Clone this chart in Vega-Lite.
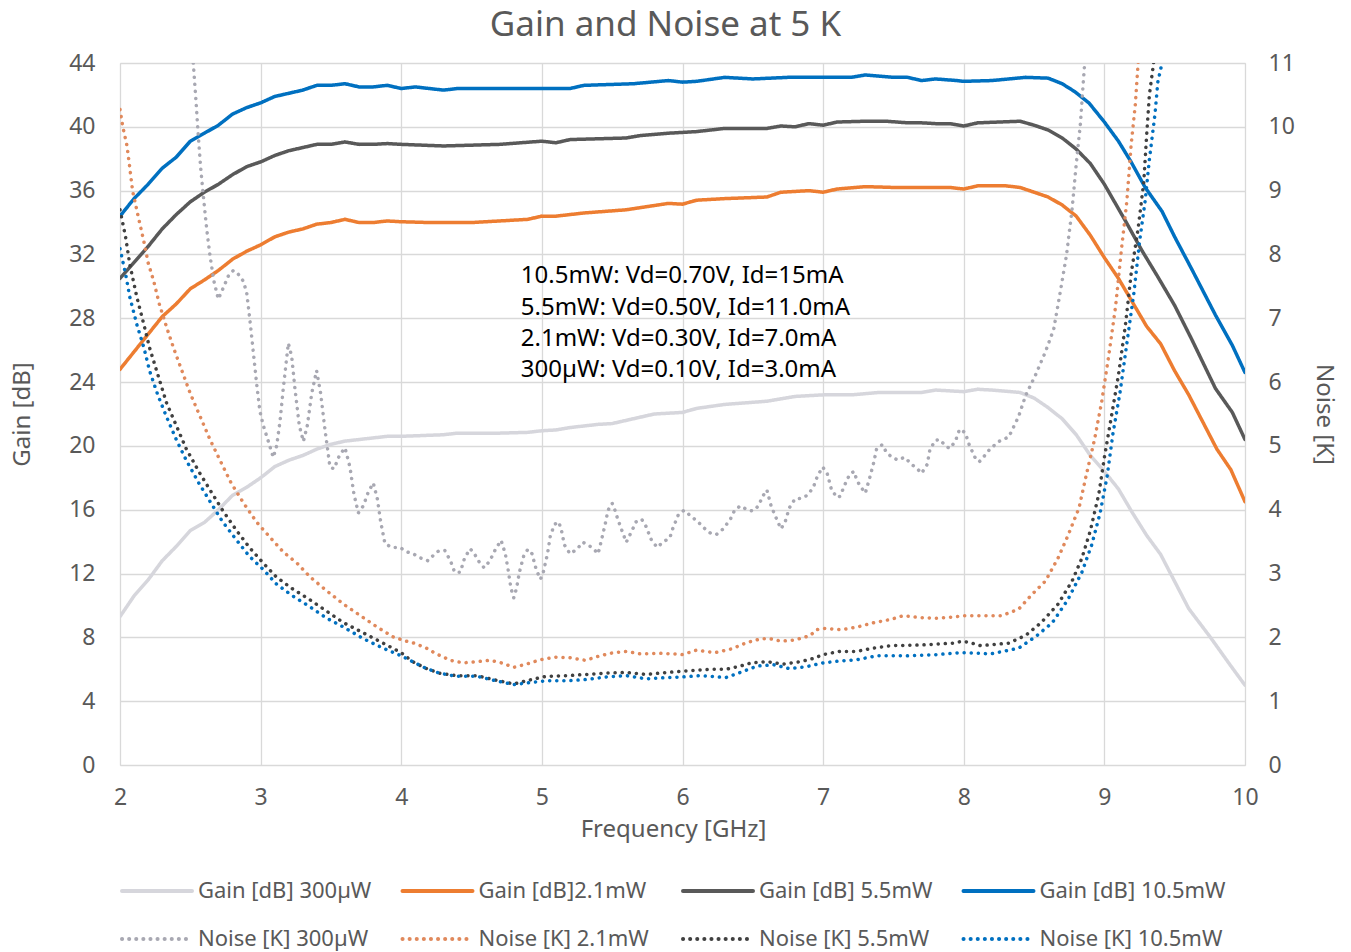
{
"$schema":"https://vega.github.io/schema/vega-lite/v6.json",
"width":1125,"height":702,
"autosize":{"type":"none"},
"padding":{"left":120,"top":63,"right":106,"bottom":187},
"background":"white",
"title":{"text":"Gain and Noise at 5 K","fontSize":35,"fontWeight":"normal","color":"#595959","font":"Noto Sans","dx":-17,"offset":9},
"config":{"font":"Noto Sans","view":{"stroke":"#d9d9d9"},
 "axis":{"labelFont":"Noto Sans","titleFont":"Noto Sans","labelFontSize":23,"titleFontSize":24,"labelColor":"#595959","titleColor":"#595959","titleFontWeight":"normal","gridColor":"#d9d9d9","gridWidth":1.3,"domain":false,"ticks":false,"tickSize":0,"labelFlush":false}},
"datasets":{
"labels":[
{"k":"g300","s":"Gain [dB] 300µW"},{"k":"g2","s":"Gain [dB]2.1mW"},{"k":"g5","s":"Gain [dB] 5.5mW"},{"k":"g10","s":"Gain [dB] 10.5mW"},
{"k":"n300","s":"Noise [K] 300µW"},{"k":"n2","s":"Noise [K] 2.1mW"},{"k":"n5","s":"Noise [K] 5.5mW"},{"k":"n10","s":"Noise [K] 10.5mW"}],
"notes":[
{"f":4.85,"g":30.65,"t":"10.5mW: Vd=0.70V, Id=15mA"},
{"f":4.85,"g":28.64,"t":"5.5mW: Vd=0.50V, Id=11.0mA"},
{"f":4.85,"g":26.7,"t":"2.1mW: Vd=0.30V, Id=7.0mA"},
{"f":4.85,"g":24.76,"t":"300µW: Vd=0.10V, Id=3.0mA"}],
"pts":[
{"k":"g300","f":2.0,"v":9.3},{"k":"g300","f":2.1,"v":10.6},{"k":"g300","f":2.2,"v":11.6},{"k":"g300","f":2.3,"v":12.8},{"k":"g300","f":2.4,"v":13.7},{"k":"g300","f":2.5,"v":14.7},{"k":"g300","f":2.6,"v":15.2},{"k":"g300","f":2.7,"v":16.0},{"k":"g300","f":2.8,"v":16.9},{"k":"g300","f":2.9,"v":17.4},{"k":"g300","f":3.0,"v":18.0},{"k":"g300","f":3.1,"v":18.7},{"k":"g300","f":3.2,"v":19.1},{"k":"g300","f":3.3,"v":19.4},{"k":"g300","f":3.4,"v":19.8},{"k":"g300","f":3.5,"v":20.1},{"k":"g300","f":3.6,"v":20.3},{"k":"g300","f":3.7,"v":20.4},{"k":"g300","f":3.8,"v":20.5},{"k":"g300","f":3.9,"v":20.6},{"k":"g300","f":4.0,"v":20.6},{"k":"g300","f":4.3,"v":20.7},{"k":"g300","f":4.4,"v":20.8},{"k":"g300","f":4.7,"v":20.8},{"k":"g300","f":4.9,"v":20.85},{"k":"g300","f":5.0,"v":20.95},{"k":"g300","f":5.1,"v":21.0},{"k":"g300","f":5.2,"v":21.15},{"k":"g300","f":5.4,"v":21.35},{"k":"g300","f":5.5,"v":21.4},{"k":"g300","f":5.65,"v":21.7},{"k":"g300","f":5.8,"v":22.0},{"k":"g300","f":6.0,"v":22.1},{"k":"g300","f":6.1,"v":22.35},{"k":"g300","f":6.3,"v":22.6},{"k":"g300","f":6.6,"v":22.8},{"k":"g300","f":6.8,"v":23.1},{"k":"g300","f":7.0,"v":23.2},{"k":"g300","f":7.2,"v":23.2},{"k":"g300","f":7.4,"v":23.35},{"k":"g300","f":7.7,"v":23.35},{"k":"g300","f":7.8,"v":23.5},{"k":"g300","f":8.0,"v":23.4},{"k":"g300","f":8.1,"v":23.55},{"k":"g300","f":8.2,"v":23.5},{"k":"g300","f":8.4,"v":23.35},{"k":"g300","f":8.5,"v":23.0},{"k":"g300","f":8.6,"v":22.4},{"k":"g300","f":8.7,"v":21.7},{"k":"g300","f":8.8,"v":20.7},{"k":"g300","f":8.9,"v":19.4},{"k":"g300","f":9.0,"v":18.4},{"k":"g300","f":9.1,"v":17.3},{"k":"g300","f":9.2,"v":15.8},{"k":"g300","f":9.3,"v":14.4},{"k":"g300","f":9.4,"v":13.2},{"k":"g300","f":9.5,"v":11.5},{"k":"g300","f":9.6,"v":9.8},{"k":"g300","f":9.75,"v":8.05},{"k":"g300","f":9.9,"v":6.2},{"k":"g300","f":10.0,"v":5.0},
{"k":"g2","f":2.0,"v":24.8},{"k":"g2","f":2.1,"v":25.9},{"k":"g2","f":2.2,"v":27.0},{"k":"g2","f":2.3,"v":28.1},{"k":"g2","f":2.4,"v":28.9},{"k":"g2","f":2.5,"v":29.85},{"k":"g2","f":2.6,"v":30.4},{"k":"g2","f":2.7,"v":31.0},{"k":"g2","f":2.8,"v":31.7},{"k":"g2","f":2.9,"v":32.2},{"k":"g2","f":3.0,"v":32.6},{"k":"g2","f":3.1,"v":33.1},{"k":"g2","f":3.2,"v":33.4},{"k":"g2","f":3.3,"v":33.6},{"k":"g2","f":3.4,"v":33.9},{"k":"g2","f":3.5,"v":34.0},{"k":"g2","f":3.6,"v":34.2},{"k":"g2","f":3.7,"v":34.0},{"k":"g2","f":3.8,"v":34.0},{"k":"g2","f":3.9,"v":34.1},{"k":"g2","f":4.0,"v":34.05},{"k":"g2","f":4.2,"v":34.0},{"k":"g2","f":4.5,"v":34.0},{"k":"g2","f":4.7,"v":34.1},{"k":"g2","f":4.9,"v":34.2},{"k":"g2","f":5.0,"v":34.4},{"k":"g2","f":5.1,"v":34.4},{"k":"g2","f":5.3,"v":34.6},{"k":"g2","f":5.6,"v":34.8},{"k":"g2","f":5.9,"v":35.2},{"k":"g2","f":6.0,"v":35.15},{"k":"g2","f":6.1,"v":35.4},{"k":"g2","f":6.3,"v":35.5},{"k":"g2","f":6.6,"v":35.6},{"k":"g2","f":6.7,"v":35.9},{"k":"g2","f":6.9,"v":36.0},{"k":"g2","f":7.0,"v":35.9},{"k":"g2","f":7.1,"v":36.1},{"k":"g2","f":7.3,"v":36.25},{"k":"g2","f":7.5,"v":36.2},{"k":"g2","f":7.7,"v":36.2},{"k":"g2","f":7.9,"v":36.2},{"k":"g2","f":8.0,"v":36.1},{"k":"g2","f":8.1,"v":36.3},{"k":"g2","f":8.3,"v":36.3},{"k":"g2","f":8.4,"v":36.2},{"k":"g2","f":8.5,"v":35.9},{"k":"g2","f":8.6,"v":35.6},{"k":"g2","f":8.7,"v":35.1},{"k":"g2","f":8.8,"v":34.4},{"k":"g2","f":8.9,"v":33.2},{"k":"g2","f":9.0,"v":31.8},{"k":"g2","f":9.1,"v":30.5},{"k":"g2","f":9.2,"v":29.0},{"k":"g2","f":9.3,"v":27.5},{"k":"g2","f":9.4,"v":26.4},{"k":"g2","f":9.5,"v":24.7},{"k":"g2","f":9.6,"v":23.2},{"k":"g2","f":9.7,"v":21.5},{"k":"g2","f":9.8,"v":19.8},{"k":"g2","f":9.9,"v":18.5},{"k":"g2","f":10.0,"v":16.5},
{"k":"g5","f":2.0,"v":30.5},{"k":"g5","f":2.1,"v":31.5},{"k":"g5","f":2.2,"v":32.5},{"k":"g5","f":2.3,"v":33.6},{"k":"g5","f":2.4,"v":34.5},{"k":"g5","f":2.5,"v":35.3},{"k":"g5","f":2.6,"v":35.9},{"k":"g5","f":2.7,"v":36.4},{"k":"g5","f":2.8,"v":37.0},{"k":"g5","f":2.9,"v":37.5},{"k":"g5","f":3.0,"v":37.8},{"k":"g5","f":3.1,"v":38.2},{"k":"g5","f":3.2,"v":38.5},{"k":"g5","f":3.3,"v":38.7},{"k":"g5","f":3.4,"v":38.9},{"k":"g5","f":3.5,"v":38.9},{"k":"g5","f":3.6,"v":39.05},{"k":"g5","f":3.7,"v":38.9},{"k":"g5","f":3.8,"v":38.9},{"k":"g5","f":3.9,"v":38.95},{"k":"g5","f":4.0,"v":38.9},{"k":"g5","f":4.3,"v":38.8},{"k":"g5","f":4.7,"v":38.9},{"k":"g5","f":5.0,"v":39.1},{"k":"g5","f":5.1,"v":39.0},{"k":"g5","f":5.2,"v":39.2},{"k":"g5","f":5.4,"v":39.25},{"k":"g5","f":5.6,"v":39.3},{"k":"g5","f":5.7,"v":39.45},{"k":"g5","f":5.9,"v":39.6},{"k":"g5","f":6.1,"v":39.7},{"k":"g5","f":6.3,"v":39.9},{"k":"g5","f":6.6,"v":39.9},{"k":"g5","f":6.7,"v":40.05},{"k":"g5","f":6.8,"v":40.0},{"k":"g5","f":6.9,"v":40.2},{"k":"g5","f":7.0,"v":40.1},{"k":"g5","f":7.1,"v":40.3},{"k":"g5","f":7.3,"v":40.35},{"k":"g5","f":7.45,"v":40.35},{"k":"g5","f":7.6,"v":40.25},{"k":"g5","f":7.7,"v":40.25},{"k":"g5","f":7.8,"v":40.2},{"k":"g5","f":7.9,"v":40.2},{"k":"g5","f":8.0,"v":40.05},{"k":"g5","f":8.1,"v":40.25},{"k":"g5","f":8.4,"v":40.35},{"k":"g5","f":8.5,"v":40.1},{"k":"g5","f":8.6,"v":39.8},{"k":"g5","f":8.7,"v":39.3},{"k":"g5","f":8.8,"v":38.6},{"k":"g5","f":8.9,"v":37.7},{"k":"g5","f":9.0,"v":36.4},{"k":"g5","f":9.15,"v":34.1},{"k":"g5","f":9.27,"v":32.2},{"k":"g5","f":9.38,"v":30.6},{"k":"g5","f":9.5,"v":28.8},{"k":"g5","f":9.62,"v":26.7},{"k":"g5","f":9.79,"v":23.6},{"k":"g5","f":9.91,"v":22.1},{"k":"g5","f":10.0,"v":20.4},
{"k":"g10","f":2.0,"v":34.4},{"k":"g10","f":2.1,"v":35.5},{"k":"g10","f":2.2,"v":36.4},{"k":"g10","f":2.3,"v":37.4},{"k":"g10","f":2.4,"v":38.1},{"k":"g10","f":2.5,"v":39.1},{"k":"g10","f":2.6,"v":39.6},{"k":"g10","f":2.7,"v":40.1},{"k":"g10","f":2.8,"v":40.8},{"k":"g10","f":2.9,"v":41.2},{"k":"g10","f":3.0,"v":41.5},{"k":"g10","f":3.1,"v":41.9},{"k":"g10","f":3.2,"v":42.1},{"k":"g10","f":3.3,"v":42.3},{"k":"g10","f":3.4,"v":42.6},{"k":"g10","f":3.5,"v":42.6},{"k":"g10","f":3.6,"v":42.7},{"k":"g10","f":3.7,"v":42.5},{"k":"g10","f":3.8,"v":42.5},{"k":"g10","f":3.9,"v":42.6},{"k":"g10","f":4.0,"v":42.4},{"k":"g10","f":4.1,"v":42.5},{"k":"g10","f":4.3,"v":42.3},{"k":"g10","f":4.4,"v":42.4},{"k":"g10","f":4.7,"v":42.4},{"k":"g10","f":5.0,"v":42.4},{"k":"g10","f":5.2,"v":42.4},{"k":"g10","f":5.3,"v":42.6},{"k":"g10","f":5.65,"v":42.7},{"k":"g10","f":5.9,"v":42.9},{"k":"g10","f":6.0,"v":42.8},{"k":"g10","f":6.1,"v":42.85},{"k":"g10","f":6.3,"v":43.1},{"k":"g10","f":6.5,"v":43.0},{"k":"g10","f":6.75,"v":43.1},{"k":"g10","f":7.0,"v":43.1},{"k":"g10","f":7.2,"v":43.1},{"k":"g10","f":7.3,"v":43.25},{"k":"g10","f":7.5,"v":43.1},{"k":"g10","f":7.6,"v":43.1},{"k":"g10","f":7.7,"v":42.9},{"k":"g10","f":7.8,"v":43.0},{"k":"g10","f":7.95,"v":42.9},{"k":"g10","f":8.0,"v":42.85},{"k":"g10","f":8.2,"v":42.9},{"k":"g10","f":8.44,"v":43.1},{"k":"g10","f":8.6,"v":43.05},{"k":"g10","f":8.7,"v":42.7},{"k":"g10","f":8.79,"v":42.2},{"k":"g10","f":8.89,"v":41.5},{"k":"g10","f":9.0,"v":40.3},{"k":"g10","f":9.1,"v":39.1},{"k":"g10","f":9.19,"v":37.8},{"k":"g10","f":9.29,"v":36.2},{"k":"g10","f":9.41,"v":34.7},{"k":"g10","f":9.5,"v":33.1},{"k":"g10","f":9.62,"v":31.1},{"k":"g10","f":9.79,"v":28.2},{"k":"g10","f":9.91,"v":26.3},{"k":"g10","f":10.0,"v":24.6},
{"k":"n300","f":2.5,"v":12.0},{"k":"n300","f":2.521,"v":11.0},{"k":"n300","f":2.54,"v":10.42},{"k":"n300","f":2.557,"v":9.85},{"k":"n300","f":2.574,"v":9.35},{"k":"n300","f":2.593,"v":8.91},{"k":"n300","f":2.616,"v":8.41},{"k":"n300","f":2.64,"v":7.98},{"k":"n300","f":2.668,"v":7.58},{"k":"n300","f":2.699,"v":7.3},{"k":"n300","f":2.735,"v":7.48},{"k":"n300","f":2.77,"v":7.66},{"k":"n300","f":2.806,"v":7.75},{"k":"n300","f":2.841,"v":7.69},{"k":"n300","f":2.877,"v":7.58},{"k":"n300","f":2.901,"v":7.4},{"k":"n300","f":2.924,"v":6.97},{"k":"n300","f":2.948,"v":6.47},{"k":"n300","f":2.972,"v":5.97},{"k":"n300","f":2.995,"v":5.54},{"k":"n300","f":3.019,"v":5.32},{"k":"n300","f":3.055,"v":5.07},{"k":"n300","f":3.09,"v":4.82},{"k":"n300","f":3.114,"v":5.0},{"k":"n300","f":3.138,"v":5.39},{"k":"n300","f":3.161,"v":5.9},{"k":"n300","f":3.197,"v":6.61},{"k":"n300","f":3.221,"v":6.4},{"k":"n300","f":3.244,"v":5.9},{"k":"n300","f":3.275,"v":5.32},{"k":"n300","f":3.304,"v":5.07},{"k":"n300","f":3.332,"v":5.32},{"k":"n300","f":3.363,"v":5.82},{"k":"n300","f":3.398,"v":6.18},{"k":"n300","f":3.427,"v":5.82},{"k":"n300","f":3.458,"v":5.25},{"k":"n300","f":3.493,"v":4.67},{"k":"n300","f":3.522,"v":4.64},{"k":"n300","f":3.56,"v":4.85},{"k":"n300","f":3.6,"v":4.97},{"k":"n300","f":3.635,"v":4.67},{"k":"n300","f":3.664,"v":4.24},{"k":"n300","f":3.695,"v":3.95},{"k":"n300","f":3.73,"v":4.06},{"k":"n300","f":3.766,"v":4.28},{"k":"n300","f":3.801,"v":4.42},{"k":"n300","f":3.83,"v":4.17},{"k":"n300","f":3.854,"v":3.81},{"k":"n300","f":3.884,"v":3.47},{"k":"n300","f":3.932,"v":3.41},{"k":"n300","f":3.99,"v":3.41},{"k":"n300","f":4.04,"v":3.34},{"k":"n300","f":4.085,"v":3.31},{"k":"n300","f":4.13,"v":3.25},{"k":"n300","f":4.19,"v":3.2},{"k":"n300","f":4.24,"v":3.31},{"k":"n300","f":4.27,"v":3.36},{"k":"n300","f":4.31,"v":3.36},{"k":"n300","f":4.35,"v":3.2},{"k":"n300","f":4.38,"v":3.02},{"k":"n300","f":4.42,"v":3.02},{"k":"n300","f":4.45,"v":3.24},{"k":"n300","f":4.49,"v":3.39},{"k":"n300","f":4.52,"v":3.31},{"k":"n300","f":4.56,"v":3.16},{"k":"n300","f":4.59,"v":3.09},{"k":"n300","f":4.63,"v":3.2},{"k":"n300","f":4.67,"v":3.38},{"k":"n300","f":4.71,"v":3.52},{"k":"n300","f":4.74,"v":3.31},{"k":"n300","f":4.76,"v":3.06},{"k":"n300","f":4.78,"v":2.77},{"k":"n300","f":4.8,"v":2.62},{"k":"n300","f":4.82,"v":2.77},{"k":"n300","f":4.84,"v":3.02},{"k":"n300","f":4.87,"v":3.27},{"k":"n300","f":4.9,"v":3.38},{"k":"n300","f":4.93,"v":3.31},{"k":"n300","f":4.96,"v":3.06},{"k":"n300","f":4.99,"v":2.91},{"k":"n300","f":5.01,"v":3.02},{"k":"n300","f":5.04,"v":3.31},{"k":"n300","f":5.06,"v":3.59},{"k":"n300","f":5.09,"v":3.77},{"k":"n300","f":5.12,"v":3.81},{"k":"n300","f":5.14,"v":3.67},{"k":"n300","f":5.16,"v":3.45},{"k":"n300","f":5.2,"v":3.31},{"k":"n300","f":5.25,"v":3.38},{"k":"n300","f":5.29,"v":3.49},{"k":"n300","f":5.33,"v":3.45},{"k":"n300","f":5.37,"v":3.38},{"k":"n300","f":5.4,"v":3.31},{"k":"n300","f":5.42,"v":3.49},{"k":"n300","f":5.45,"v":3.77},{"k":"n300","f":5.47,"v":3.99},{"k":"n300","f":5.5,"v":4.1},{"k":"n300","f":5.52,"v":3.99},{"k":"n300","f":5.54,"v":3.85},{"k":"n300","f":5.57,"v":3.67},{"k":"n300","f":5.6,"v":3.49},{"k":"n300","f":5.64,"v":3.67},{"k":"n300","f":5.67,"v":3.81},{"k":"n300","f":5.71,"v":3.85},{"k":"n300","f":5.74,"v":3.74},{"k":"n300","f":5.78,"v":3.52},{"k":"n300","f":5.82,"v":3.41},{"k":"n300","f":5.86,"v":3.49},{"k":"n300","f":5.91,"v":3.56},{"k":"n300","f":5.93,"v":3.7},{"k":"n300","f":5.97,"v":3.92},{"k":"n300","f":6.01,"v":3.99},{"k":"n300","f":6.05,"v":3.92},{"k":"n300","f":6.11,"v":3.81},{"k":"n300","f":6.16,"v":3.7},{"k":"n300","f":6.2,"v":3.63},{"k":"n300","f":6.24,"v":3.61},{"k":"n300","f":6.29,"v":3.7},{"k":"n300","f":6.34,"v":3.85},{"k":"n300","f":6.37,"v":3.99},{"k":"n300","f":6.41,"v":4.06},{"k":"n300","f":6.46,"v":4.0},{"k":"n300","f":6.5,"v":3.98},{"k":"n300","f":6.54,"v":4.06},{"k":"n300","f":6.57,"v":4.21},{"k":"n300","f":6.6,"v":4.31},{"k":"n300","f":6.63,"v":4.06},{"k":"n300","f":6.67,"v":3.85},{"k":"n300","f":6.7,"v":3.7},{"k":"n300","f":6.73,"v":3.81},{"k":"n300","f":6.76,"v":4.03},{"k":"n300","f":6.8,"v":4.17},{"k":"n300","f":6.85,"v":4.18},{"k":"n300","f":6.89,"v":4.23},{"k":"n300","f":6.93,"v":4.35},{"k":"n300","f":6.96,"v":4.53},{"k":"n300","f":6.997,"v":4.67},{"k":"n300","f":7.03,"v":4.56},{"k":"n300","f":7.06,"v":4.31},{"k":"n300","f":7.1,"v":4.19},{"k":"n300","f":7.12,"v":4.21},{"k":"n300","f":7.16,"v":4.42},{"k":"n300","f":7.19,"v":4.56},{"k":"n300","f":7.22,"v":4.6},{"k":"n300","f":7.24,"v":4.46},{"k":"n300","f":7.27,"v":4.35},{"k":"n300","f":7.3,"v":4.26},{"k":"n300","f":7.33,"v":4.49},{"k":"n300","f":7.36,"v":4.74},{"k":"n300","f":7.38,"v":4.95},{"k":"n300","f":7.42,"v":5.02},{"k":"n300","f":7.45,"v":4.9},{"k":"n300","f":7.49,"v":4.82},{"k":"n300","f":7.53,"v":4.78},{"k":"n300","f":7.58,"v":4.82},{"k":"n300","f":7.63,"v":4.71},{"k":"n300","f":7.67,"v":4.64},{"k":"n300","f":7.7,"v":4.57},{"k":"n300","f":7.74,"v":4.71},{"k":"n300","f":7.76,"v":4.95},{"k":"n300","f":7.8,"v":5.09},{"k":"n300","f":7.83,"v":5.1},{"k":"n300","f":7.87,"v":5.0},{"k":"n300","f":7.9,"v":4.96},{"k":"n300","f":7.94,"v":5.07},{"k":"n300","f":7.97,"v":5.26},{"k":"n300","f":8.01,"v":5.21},{"k":"n300","f":8.04,"v":5.01},{"k":"n300","f":8.08,"v":4.82},{"k":"n300","f":8.11,"v":4.75},{"k":"n300","f":8.15,"v":4.85},{"k":"n300","f":8.19,"v":4.96},{"k":"n300","f":8.25,"v":5.07},{"k":"n300","f":8.32,"v":5.14},{"k":"n300","f":8.39,"v":5.46},{"k":"n300","f":8.44,"v":5.79},{"k":"n300","f":8.51,"v":6.11},{"k":"n300","f":8.58,"v":6.47},{"k":"n300","f":8.64,"v":6.83},{"k":"n300","f":8.68,"v":7.33},{"k":"n300","f":8.73,"v":7.98},{"k":"n300","f":8.77,"v":8.7},{"k":"n300","f":8.8,"v":9.42},{"k":"n300","f":8.83,"v":10.06},{"k":"n300","f":8.85,"v":10.7},{"k":"n300","f":8.86,"v":11.0},{"k":"n300","f":8.88,"v":12.0},
{"k":"n2","f":2.0,"v":10.27},{"k":"n2","f":2.02,"v":10.0},{"k":"n2","f":2.05,"v":9.7},{"k":"n2","f":2.07,"v":9.35},{"k":"n2","f":2.09,"v":8.99},{"k":"n2","f":2.13,"v":8.59},{"k":"n2","f":2.17,"v":8.2},{"k":"n2","f":2.2,"v":7.87},{"k":"n2","f":2.24,"v":7.58},{"k":"n2","f":2.28,"v":7.22},{"k":"n2","f":2.33,"v":6.87},{"k":"n2","f":2.38,"v":6.54},{"k":"n2","f":2.44,"v":6.18},{"k":"n2","f":2.5,"v":5.82},{"k":"n2","f":2.57,"v":5.46},{"k":"n2","f":2.64,"v":5.1},{"k":"n2","f":2.71,"v":4.78},{"k":"n2","f":2.79,"v":4.42},{"k":"n2","f":2.88,"v":4.1},{"k":"n2","f":2.97,"v":3.81},{"k":"n2","f":3.07,"v":3.56},{"k":"n2","f":3.16,"v":3.34},{"k":"n2","f":3.26,"v":3.16},{"k":"n2","f":3.35,"v":2.95},{"k":"n2","f":3.47,"v":2.73},{"k":"n2","f":3.59,"v":2.52},{"k":"n2","f":3.71,"v":2.34},{"k":"n2","f":3.83,"v":2.16},{"k":"n2","f":3.94,"v":2.01},{"k":"n2","f":4.02,"v":1.95},{"k":"n2","f":4.09,"v":1.91},{"k":"n2","f":4.18,"v":1.83},{"k":"n2","f":4.25,"v":1.74},{"k":"n2","f":4.35,"v":1.64},{"k":"n2","f":4.44,"v":1.6},{"k":"n2","f":4.54,"v":1.62},{"k":"n2","f":4.63,"v":1.64},{"k":"n2","f":4.7,"v":1.61},{"k":"n2","f":4.8,"v":1.53},{"k":"n2","f":4.89,"v":1.58},{"k":"n2","f":4.99,"v":1.65},{"k":"n2","f":5.1,"v":1.69},{"k":"n2","f":5.2,"v":1.68},{"k":"n2","f":5.31,"v":1.64},{"k":"n2","f":5.41,"v":1.71},{"k":"n2","f":5.51,"v":1.76},{"k":"n2","f":5.6,"v":1.78},{"k":"n2","f":5.7,"v":1.74},{"k":"n2","f":5.84,"v":1.75},{"k":"n2","f":5.95,"v":1.74},{"k":"n2","f":6.0,"v":1.73},{"k":"n2","f":6.1,"v":1.8},{"k":"n2","f":6.23,"v":1.76},{"k":"n2","f":6.35,"v":1.82},{"k":"n2","f":6.46,"v":1.92},{"k":"n2","f":6.56,"v":1.98},{"k":"n2","f":6.62,"v":1.98},{"k":"n2","f":6.7,"v":1.94},{"k":"n2","f":6.8,"v":1.96},{"k":"n2","f":6.91,"v":2.03},{"k":"n2","f":6.95,"v":2.12},{"k":"n2","f":7.01,"v":2.14},{"k":"n2","f":7.13,"v":2.12},{"k":"n2","f":7.24,"v":2.16},{"k":"n2","f":7.36,"v":2.23},{"k":"n2","f":7.48,"v":2.28},{"k":"n2","f":7.57,"v":2.34},{"k":"n2","f":7.69,"v":2.31},{"k":"n2","f":7.81,"v":2.3},{"k":"n2","f":7.93,"v":2.32},{"k":"n2","f":8.0,"v":2.34},{"k":"n2","f":8.1,"v":2.34},{"k":"n2","f":8.27,"v":2.34},{"k":"n2","f":8.39,"v":2.44},{"k":"n2","f":8.48,"v":2.66},{"k":"n2","f":8.58,"v":2.88},{"k":"n2","f":8.67,"v":3.24},{"k":"n2","f":8.74,"v":3.59},{"k":"n2","f":8.82,"v":4.03},{"k":"n2","f":8.87,"v":4.53},{"k":"n2","f":8.93,"v":5.1},{"k":"n2","f":8.98,"v":5.68},{"k":"n2","f":9.03,"v":6.4},{"k":"n2","f":9.08,"v":7.19},{"k":"n2","f":9.12,"v":8.05},{"k":"n2","f":9.16,"v":8.84},{"k":"n2","f":9.19,"v":9.71},{"k":"n2","f":9.22,"v":10.35},{"k":"n2","f":9.24,"v":11.0},{"k":"n2","f":9.27,"v":11.9},
{"k":"n5","f":2.0,"v":8.7},{"k":"n5","f":2.04,"v":8.27},{"k":"n5","f":2.07,"v":7.84},{"k":"n5","f":2.12,"v":7.33},{"k":"n5","f":2.17,"v":6.9},{"k":"n5","f":2.21,"v":6.54},{"k":"n5","f":2.27,"v":6.11},{"k":"n5","f":2.33,"v":5.68},{"k":"n5","f":2.4,"v":5.32},{"k":"n5","f":2.47,"v":4.96},{"k":"n5","f":2.56,"v":4.6},{"k":"n5","f":2.64,"v":4.31},{"k":"n5","f":2.73,"v":3.99},{"k":"n5","f":2.83,"v":3.67},{"k":"n5","f":2.92,"v":3.41},{"k":"n5","f":3.02,"v":3.16},{"k":"n5","f":3.11,"v":2.95},{"k":"n5","f":3.22,"v":2.77},{"k":"n5","f":3.35,"v":2.59},{"k":"n5","f":3.47,"v":2.41},{"k":"n5","f":3.59,"v":2.23},{"k":"n5","f":3.73,"v":2.07},{"k":"n5","f":3.87,"v":1.91},{"k":"n5","f":4.0,"v":1.76},{"k":"n5","f":4.08,"v":1.62},{"k":"n5","f":4.18,"v":1.51},{"k":"n5","f":4.27,"v":1.44},{"k":"n5","f":4.39,"v":1.4},{"k":"n5","f":4.54,"v":1.4},{"k":"n5","f":4.65,"v":1.34},{"k":"n5","f":4.8,"v":1.27},{"k":"n5","f":4.91,"v":1.33},{"k":"n5","f":5.03,"v":1.39},{"k":"n5","f":5.18,"v":1.4},{"k":"n5","f":5.32,"v":1.42},{"k":"n5","f":5.46,"v":1.44},{"k":"n5","f":5.6,"v":1.45},{"k":"n5","f":5.74,"v":1.42},{"k":"n5","f":5.89,"v":1.45},{"k":"n5","f":6.0,"v":1.47},{"k":"n5","f":6.2,"v":1.5},{"k":"n5","f":6.31,"v":1.5},{"k":"n5","f":6.41,"v":1.55},{"k":"n5","f":6.49,"v":1.6},{"k":"n5","f":6.6,"v":1.62},{"k":"n5","f":6.71,"v":1.58},{"k":"n5","f":6.84,"v":1.62},{"k":"n5","f":6.93,"v":1.67},{"k":"n5","f":7.0,"v":1.73},{"k":"n5","f":7.12,"v":1.78},{"k":"n5","f":7.24,"v":1.78},{"k":"n5","f":7.35,"v":1.83},{"k":"n5","f":7.48,"v":1.87},{"k":"n5","f":7.69,"v":1.88},{"k":"n5","f":7.93,"v":1.91},{"k":"n5","f":7.99,"v":1.94},{"k":"n5","f":8.04,"v":1.92},{"k":"n5","f":8.12,"v":1.87},{"k":"n5","f":8.32,"v":1.91},{"k":"n5","f":8.44,"v":2.03},{"k":"n5","f":8.55,"v":2.23},{"k":"n5","f":8.67,"v":2.52},{"k":"n5","f":8.77,"v":2.88},{"k":"n5","f":8.84,"v":3.24},{"k":"n5","f":8.9,"v":3.67},{"k":"n5","f":8.96,"v":4.24},{"k":"n5","f":9.0,"v":4.82},{"k":"n5","f":9.05,"v":5.46},{"k":"n5","f":9.1,"v":6.11},{"k":"n5","f":9.15,"v":6.9},{"k":"n5","f":9.19,"v":7.69},{"k":"n5","f":9.24,"v":8.41},{"k":"n5","f":9.28,"v":9.13},{"k":"n5","f":9.3,"v":9.85},{"k":"n5","f":9.32,"v":10.5},{"k":"n5","f":9.35,"v":11.0},{"k":"n5","f":9.38,"v":11.8},
{"k":"n10","f":2.0,"v":8.09},{"k":"n10","f":2.04,"v":7.69},{"k":"n10","f":2.07,"v":7.33},{"k":"n10","f":2.12,"v":6.9},{"k":"n10","f":2.17,"v":6.54},{"k":"n10","f":2.21,"v":6.18},{"k":"n10","f":2.27,"v":5.79},{"k":"n10","f":2.33,"v":5.46},{"k":"n10","f":2.4,"v":5.1},{"k":"n10","f":2.47,"v":4.78},{"k":"n10","f":2.56,"v":4.42},{"k":"n10","f":2.64,"v":4.13},{"k":"n10","f":2.73,"v":3.81},{"k":"n10","f":2.83,"v":3.52},{"k":"n10","f":2.92,"v":3.27},{"k":"n10","f":3.02,"v":3.06},{"k":"n10","f":3.11,"v":2.84},{"k":"n10","f":3.22,"v":2.66},{"k":"n10","f":3.35,"v":2.48},{"k":"n10","f":3.47,"v":2.3},{"k":"n10","f":3.59,"v":2.16},{"k":"n10","f":3.73,"v":1.98},{"k":"n10","f":3.87,"v":1.83},{"k":"n10","f":4.0,"v":1.71},{"k":"n10","f":4.08,"v":1.62},{"k":"n10","f":4.18,"v":1.51},{"k":"n10","f":4.27,"v":1.44},{"k":"n10","f":4.39,"v":1.39},{"k":"n10","f":4.54,"v":1.39},{"k":"n10","f":4.65,"v":1.33},{"k":"n10","f":4.8,"v":1.26},{"k":"n10","f":4.91,"v":1.29},{"k":"n10","f":5.03,"v":1.32},{"k":"n10","f":5.18,"v":1.32},{"k":"n10","f":5.32,"v":1.34},{"k":"n10","f":5.46,"v":1.38},{"k":"n10","f":5.6,"v":1.4},{"k":"n10","f":5.74,"v":1.35},{"k":"n10","f":5.89,"v":1.37},{"k":"n10","f":6.0,"v":1.38},{"k":"n10","f":6.12,"v":1.4},{"k":"n10","f":6.2,"v":1.39},{"k":"n10","f":6.31,"v":1.37},{"k":"n10","f":6.41,"v":1.45},{"k":"n10","f":6.53,"v":1.55},{"k":"n10","f":6.65,"v":1.57},{"k":"n10","f":6.76,"v":1.51},{"k":"n10","f":6.88,"v":1.54},{"k":"n10","f":7.0,"v":1.6},{"k":"n10","f":7.12,"v":1.63},{"k":"n10","f":7.24,"v":1.65},{"k":"n10","f":7.38,"v":1.71},{"k":"n10","f":7.59,"v":1.71},{"k":"n10","f":7.81,"v":1.73},{"k":"n10","f":7.97,"v":1.76},{"k":"n10","f":8.12,"v":1.75},{"k":"n10","f":8.19,"v":1.74},{"k":"n10","f":8.39,"v":1.83},{"k":"n10","f":8.51,"v":2.01},{"k":"n10","f":8.63,"v":2.23},{"k":"n10","f":8.74,"v":2.59},{"k":"n10","f":8.84,"v":3.02},{"k":"n10","f":8.91,"v":3.45},{"k":"n10","f":8.97,"v":3.95},{"k":"n10","f":9.02,"v":4.53},{"k":"n10","f":9.06,"v":5.18},{"k":"n10","f":9.11,"v":5.82},{"k":"n10","f":9.16,"v":6.61},{"k":"n10","f":9.21,"v":7.4},{"k":"n10","f":9.25,"v":8.2},{"k":"n10","f":9.29,"v":8.84},{"k":"n10","f":9.32,"v":9.49},{"k":"n10","f":9.36,"v":10.2},{"k":"n10","f":9.38,"v":10.7},{"k":"n10","f":9.41,"v":11.0},{"k":"n10","f":9.44,"v":11.8}
]},
"data":{"name":"pts"},
"transform":[{"lookup":"k","from":{"data":{"name":"labels"},"key":"k","fields":["s"]}}],
"encoding":{
 "x":{"field":"f","type":"quantitative","scale":{"domain":[2,10],"nice":false,"zero":false},
   "axis":{"title":"Frequency [GHz]","values":[2,3,4,5,6,7,8,9,10],"labelPadding":21,"titlePadding":8,"titleX":553,"grid":true}}
},
"layer":[
 {"layer":[
   {"transform":[{"filter":"datum.k[0]=='g'"}],
    "mark":{"type":"line","strokeWidth":3.5,"clip":true,"strokeCap":"round","strokeJoin":"round"},
    "encoding":{
     "y":{"field":"v","type":"quantitative","scale":{"domain":[0,44],"nice":false},
       "axis":{"title":"Gain [dB]","values":[0,4,8,12,16,20,24,28,32,36,40,44],"labelPadding":25,"titlePadding":34,"grid":true}},
     "color":{"field":"s","type":"nominal","scale":{"domain":["Gain [dB] 300µW","Gain [dB]2.1mW","Gain [dB] 5.5mW","Gain [dB] 10.5mW","Noise [K] 300µW","Noise [K] 2.1mW","Noise [K] 5.5mW","Noise [K] 10.5mW"],"range":["#d6d6dc","#ed7d31","#595959","#0070c0","#a8a8b2","#e0895c","#404040","#0070c0"]},
       "legend":{"title":null,"orient":"none","legendX":0,"legendY":791,"columns":4,"direction":"horizontal","symbolType":"stroke","symbolSize":4900,"symbolStrokeWidth":4,"labelFontSize":22,"labelColor":"#595959","labelFont":"Noto Sans","rowPadding":-28,"columnPadding":9.5,"labelOffset":4,"labelLimit":400,"padding":0,"gridAlign":"all","encode":{"symbols":{"update":{"strokeCap":{"value":"round"}}}}}},
     "strokeDash":{"field":"s","type":"nominal","scale":{"domain":["Gain [dB] 300µW","Gain [dB]2.1mW","Gain [dB] 5.5mW","Gain [dB] 10.5mW","Noise [K] 300µW","Noise [K] 2.1mW","Noise [K] 5.5mW","Noise [K] 10.5mW"],"range":[[1,0],[1,0],[1,0],[1,0],[0.1,7],[0.1,7],[0.1,7],[0.1,7]]},
       "legend":{"title":null,"orient":"none","legendX":0,"legendY":791,"columns":4,"direction":"horizontal","symbolType":"stroke","symbolSize":4900,"symbolStrokeWidth":4,"labelFontSize":22,"labelColor":"#595959","labelFont":"Noto Sans","rowPadding":-28,"columnPadding":9.5,"labelOffset":4,"labelLimit":400,"padding":0,"gridAlign":"all","encode":{"symbols":{"update":{"strokeCap":{"value":"round"}}}}}}
    }},
   {"data":{"name":"notes"},
    "mark":{"type":"text","align":"left","baseline":"middle","fontSize":24,"color":"#000000","font":"Noto Sans"},
    "encoding":{"x":{"field":"f","type":"quantitative"},"y":{"field":"g","type":"quantitative","scale":{"domain":[0,44],"nice":false},
       "axis":{"title":"Gain [dB]","values":[0,4,8,12,16,20,24,28,32,36,40,44],"labelPadding":25,"titlePadding":34,"grid":true}},"text":{"field":"t","type":"nominal"}}}
 ]},
 {"transform":[{"filter":"datum.k[0]=='n'"}],
  "mark":{"type":"line","strokeWidth":3.5,"clip":true,"strokeCap":"round","strokeJoin":"round"},
  "encoding":{
   "y":{"field":"v","type":"quantitative","scale":{"domain":[0,11],"nice":false},
     "axis":{"title":"Noise [K]","orient":"right","values":[0,1,2,3,4,5,6,7,8,9,10,11],"labelPadding":23,"titlePadding":17,"grid":false}},
   "color":{"field":"s","type":"nominal"},
   "strokeDash":{"field":"s","type":"nominal"}
  }}
],
"resolve":{"scale":{"y":"independent"}}
}
